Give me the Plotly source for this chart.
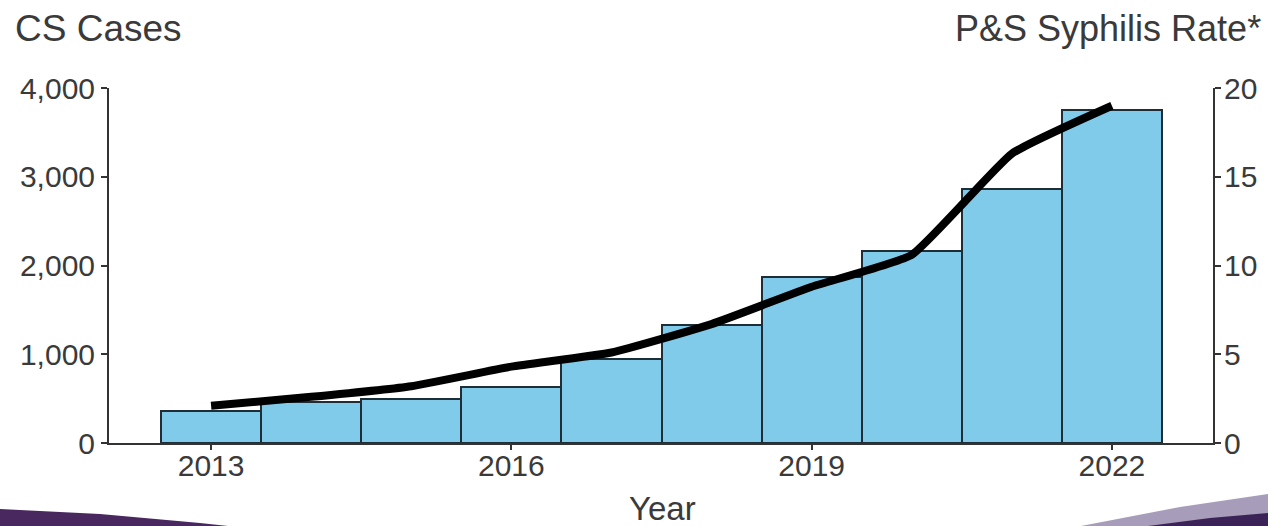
import plotly.graph_objects as go

# Congenital syphilis cases by year of birth and P&S syphilis rate
years = [2013, 2014, 2015, 2016, 2017, 2018, 2019, 2020, 2021, 2022]
cs_cases = [362, 461, 492, 628, 942, 1325, 1870, 2158, 2865, 3755]
ps_rate = [2.1, 2.6, 3.2, 4.3, 5.1, 6.7, 8.8, 10.6, 16.3, 19.0]

x_tick_years = [2013, 2016, 2019, 2022]
left_ticks = [0, 1000, 2000, 3000, 4000]
left_tick_text = ["0", "1,000", "2,000", "3,000", "4,000"]
right_ticks = [0, 5, 10, 15, 20]

W, H = 1268, 526
ML, MR, MT, MB = 109, 55, 88, 83
PW, PH = W - ML - MR, H - MT - MB

FONT = "Liberation Sans, Arial, sans-serif"
TXT = "#3a3a3a"
AX = "#333333"


def px(x):
    return (x - ML) / PW


def py(y):
    return (H - MB - y) / PH


def path(points):
    return "M " + " L ".join(f"{px(a):.5f},{py(b):.5f}" for a, b in points) + " Z"


fig = go.Figure()

fig.add_trace(go.Bar(
    x=years, y=cs_cases, width=1.0,
    marker=dict(color="#80cbea", line=dict(color="#1f2d36", width=2)),
    yaxis="y", showlegend=False,
))

fig.add_trace(go.Scatter(
    x=years, y=ps_rate, mode="lines",
    line=dict(color="#000000", width=8, shape="spline", smoothing=0.4),
    yaxis="y2", showlegend=False,
))

tick_font = dict(family=FONT, size=30, color=TXT)

fig.update_layout(
    width=W, height=H,
    margin=dict(l=ML, r=MR, t=MT, b=MB, autoexpand=False),
    paper_bgcolor="white", plot_bgcolor="white",
    bargap=0,
    xaxis=dict(
        range=[2011.98, 2023.01], tickvals=x_tick_years,
        ticks="outside", ticklen=5, tickwidth=2, tickcolor=AX,
        showline=True, linecolor=AX, linewidth=2,
        showgrid=False, zeroline=False, tickfont=tick_font,
        ticklabelstandoff=-10, automargin=False,
    ),
    yaxis=dict(
        range=[0, 4000], tickvals=left_ticks, ticktext=left_tick_text,
        ticks="outside", ticklen=6, tickwidth=2, tickcolor=AX,
        showline=True, linecolor=AX, linewidth=2,
        showgrid=False, zeroline=False, tickfont=tick_font,
        ticklabelstandoff=0, automargin=False,
    ),
    yaxis2=dict(
        range=[0, 20], tickvals=right_ticks, overlaying="y", side="right",
        ticks="outside", ticklen=6, tickwidth=2, tickcolor=AX,
        showline=True, linecolor=AX, linewidth=2,
        showgrid=False, zeroline=False, tickfont=tick_font,
        ticklabelstandoff=-3, automargin=False,
    ),
    annotations=[
        dict(text="CS Cases", xref="paper", yref="paper",
             x=px(13), y=py(28), xanchor="left", yanchor="middle",
             showarrow=False, font=dict(family=FONT, size=37, color=TXT)),
        dict(text="P&S Syphilis Rate*", xref="paper", yref="paper",
             x=px(1263), y=py(28), xanchor="right", yanchor="middle",
             showarrow=False, font=dict(family=FONT, size=36, color=TXT)),
        dict(text="Year", xref="paper", yref="paper",
             x=px(662), y=py(508), xanchor="center", yanchor="middle",
             showarrow=False, font=dict(family=FONT, size=33, color=TXT)),
    ],
    shapes=[
        dict(type="path", xref="paper", yref="paper", layer="above",
             path=path([(0, 509), (100, 514), (200, 523), (228, 526), (0, 526)]),
             fillcolor="#48285f", line=dict(width=0)),
        dict(type="path", xref="paper", yref="paper", layer="above",
             path=path([(1081, 526), (1180, 507), (1268, 494), (1268, 526)]),
             fillcolor="#a79cb9", line=dict(width=0)),
        dict(type="path", xref="paper", yref="paper", layer="above",
             path=path([(1148, 526), (1210, 518), (1268, 513), (1268, 526)]),
             fillcolor="#3b2357", line=dict(width=0)),
    ],
)

fig.write_html("out.html")
